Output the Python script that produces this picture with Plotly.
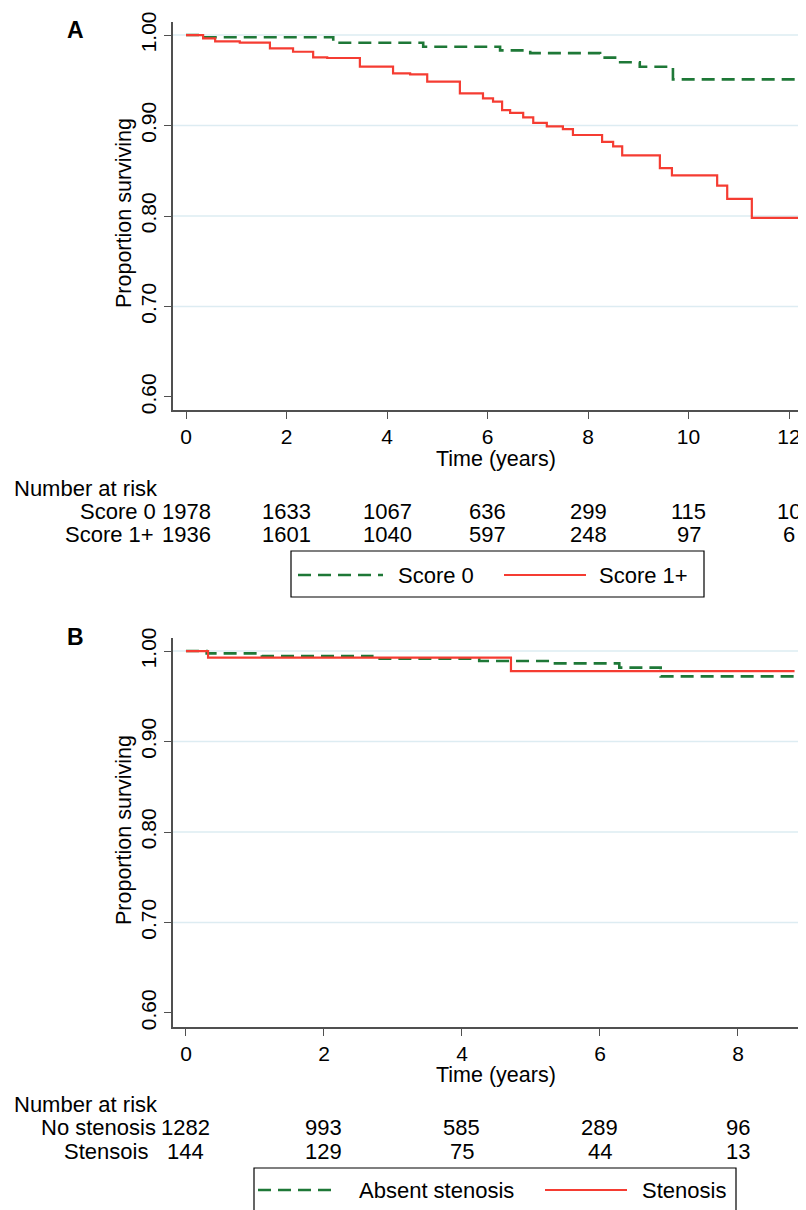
import plotly.graph_objects as go

# The page body keeps its default 8px margin, so positions are given in window
# pixels and shifted by that margin.
OFF = 8
W, H = 806 - OFF, 1210 - OFF

# ---------------- data ----------------
# Panel A: Kaplan-Meier by score
A_score0_t = [0, 0.34, 2.93, 4.72, 6.25, 6.85, 8.24, 8.57, 9.03, 9.69, 12.3]
A_score0_s = [1.0, 0.9975, 0.9915, 0.987, 0.983, 0.980, 0.975, 0.970, 0.965, 0.951, 0.951]

A_score1_t = [0, 0.34, 0.58, 1.07, 1.67, 2.13, 2.53, 2.81, 3.46, 4.12, 4.46, 4.80,
              5.45, 5.91, 6.11, 6.29, 6.45, 6.71, 6.91, 7.18, 7.50, 7.70, 8.28,
              8.50, 8.68, 9.43, 9.67, 10.57, 10.77, 11.26, 12.28]
A_score1_s = [1.0, 0.9964, 0.993, 0.9915, 0.9853, 0.9815, 0.9754, 0.9746, 0.965,
              0.9577, 0.9566, 0.9484, 0.9356, 0.930, 0.9263, 0.917, 0.914, 0.909,
              0.903, 0.899, 0.896, 0.8895, 0.882, 0.877, 0.867, 0.853, 0.845,
              0.8335, 0.819, 0.798, 0.798]

# Panel B: Kaplan-Meier by stenosis
B_absent_t = [0, 0.30, 1.10, 2.70, 4.25, 5.30, 6.28, 6.88, 8.99]
B_absent_s = [1.0, 0.9974, 0.9945, 0.9916, 0.989, 0.9864, 0.9817, 0.972, 0.972]
B_sten_t = [0, 0.32, 4.71, 8.82]
B_sten_s = [1.0, 0.9927, 0.9777, 0.9777]

# Number at risk tables
A_risk_times = [0, 2, 4, 6, 8, 10, 12]
A_risk_score0 = [1978, 1633, 1067, 636, 299, 115, 10]
A_risk_score1 = [1936, 1601, 1040, 597, 248, 97, 6]
B_risk_times = [0, 2, 4, 6, 8]
B_risk_none = [1282, 993, 585, 289, 96]
B_risk_sten = [144, 129, 75, 44, 13]

A_xticks = [0, 2, 4, 6, 8, 10, 12]
B_xticks = [0, 2, 4, 6, 8]
y_ticks = [0.6, 0.7, 0.8, 0.9, 1.0]
y_ticktext = ["0.60", "0.70", "0.80", "0.90", "1.00"]
grid_vals = [0.7, 0.8, 0.9, 1.0]

# ---------------- style ----------------
GREEN = "rgb(30,120,55)"
RED = "rgb(245,60,50)"
AXIS = "rgb(80,80,80)"
GRID = "rgb(221,236,242)"
FONT = "Liberation Sans, Arial, sans-serif"


def py(p):
    """window pixel row -> paper y"""
    return 1 - (p - OFF) / H


def px(p):
    """window pixel column -> paper x"""
    return (p - OFF) / W


fig = go.Figure()

fig.add_trace(go.Scatter(x=A_score0_t, y=A_score0_s, mode="lines", line_shape="hv",
                         line=dict(color=GREEN, width=2.6, dash="13px,7px"),
                         xaxis="x", yaxis="y", showlegend=False, name="Score 0"))
fig.add_trace(go.Scatter(x=A_score1_t, y=A_score1_s, mode="lines", line_shape="hv",
                         line=dict(color=RED, width=2.2),
                         xaxis="x", yaxis="y", showlegend=False, name="Score 1+"))
fig.add_trace(go.Scatter(x=B_absent_t, y=B_absent_s, mode="lines", line_shape="hv",
                         line=dict(color=GREEN, width=2.6, dash="13px,7px"),
                         xaxis="x2", yaxis="y2", showlegend=False, name="Absent stenosis"))
fig.add_trace(go.Scatter(x=B_sten_t, y=B_sten_s, mode="lines", line_shape="hv",
                         line=dict(color=RED, width=2.2),
                         xaxis="x2", yaxis="y2", showlegend=False, name="Stenosis"))

axis_common = dict(showline=True, linecolor=AXIS, linewidth=1.6, ticks="outside",
                   ticklen=7, tickwidth=1.4, tickcolor=AXIS, showgrid=False,
                   zeroline=False, mirror=False, automargin=False,
                   ticklabeloverflow="allow",
                   tickfont=dict(family=FONT, size=21, color="black"))

X_dom = [px(173), px(806)]
A_dom = [py(410), py(22)]
B_dom = [py(1027), py(638)]

fig.update_layout(
    width=W, height=H,
    margin=dict(l=0, r=0, t=0, b=0, autoexpand=False),
    paper_bgcolor="white", plot_bgcolor="white",
    font=dict(family=FONT, size=21, color="black"),
    xaxis=dict(axis_common, domain=X_dom, range=[-0.259, 12.338], anchor="y",
               tickvals=A_xticks),
    yaxis=dict(axis_common, domain=A_dom, range=[0.5856, 1.0144], anchor="x",
               tickvals=y_ticks, ticktext=y_ticktext, tickangle=-90),
    xaxis2=dict(axis_common, domain=X_dom, range=[-0.188, 8.986], anchor="y2",
                tickvals=B_xticks),
    yaxis2=dict(axis_common, domain=B_dom, range=[0.5845, 1.0144], anchor="x2",
                tickvals=y_ticks, ticktext=y_ticktext, tickangle=-90),
)

shapes = []
for xr, yr in (("x", "y"), ("x2", "y2")):
    for g in grid_vals:
        shapes.append(dict(type="line", xref=f"{xr} domain", yref=yr, x0=0, x1=1,
                           y0=g, y1=g, line=dict(color=GRID, width=1.6), layer="below"))

ann = []


def text(x, y, s, size=22, xanchor="center", xref="paper", bold=False, angle=0):
    ann.append(dict(x=x, y=y, xref=xref, yref="paper", text=f"<b>{s}</b>" if bold else s,
                    showarrow=False, xanchor=xanchor, yanchor="middle", textangle=angle,
                    font=dict(family=FONT, size=size, color="black")))


# panel letters
text(px(75), py(30), "A", size=23, bold=True)
text(px(75), py(637), "B", size=23, bold=True)

# y-axis titles
text(px(124), py(213), "Proportion surviving", size=21.5, angle=-90)
text(px(124), py(830), "Proportion surviving", size=21.5, angle=-90)

# x-axis titles
text(px(496), py(459), "Time (years)", size=21.5)
text(px(496), py(1075), "Time (years)", size=21.5)

# risk table A
text(px(12), py(488), "Number at risk", xanchor="left")
text(px(158), py(511), "Score 0", xanchor="right")
text(px(156), py(534), "Score 1+", xanchor="right")
for t, v in zip(A_risk_times, A_risk_score0):
    text(t, py(511), str(v), xref="x")
for t, v in zip(A_risk_times, A_risk_score1):
    text(t, py(534), str(v), xref="x")

# risk table B
text(px(12), py(1104), "Number at risk", xanchor="left")
text(px(158), py(1127), "No stenosis", xanchor="right")
text(px(150), py(1151), "Stensois", xanchor="right")
for t, v in zip(B_risk_times, B_risk_none):
    text(t, py(1127), str(v), xref="x2")
for t, v in zip(B_risk_times, B_risk_sten):
    text(t, py(1151), str(v), xref="x2")

# legend A (manual)
shapes.append(dict(type="rect", xref="paper", yref="paper", x0=px(291), x1=px(704),
                   y0=py(597), y1=py(551), line=dict(color="black", width=1.2)))
shapes.append(dict(type="line", xref="paper", yref="paper", x0=px(298), x1=px(383),
                   y0=py(575), y1=py(575), line=dict(color=GREEN, width=2.6, dash="13px,7px")))
shapes.append(dict(type="line", xref="paper", yref="paper", x0=px(504), x1=px(586),
                   y0=py(575), y1=py(575), line=dict(color=RED, width=2.2)))
text(px(396), py(575), "Score 0", xanchor="left")
text(px(597), py(575), "Score 1+", xanchor="left")

# legend B (manual, bottom edge runs off the page as in the reference)
shapes.append(dict(type="rect", xref="paper", yref="paper", x0=px(254), x1=px(736),
                   y0=py(1225), y1=py(1168), line=dict(color="black", width=1.2)))
shapes.append(dict(type="line", xref="paper", yref="paper", x0=px(258), x1=px(335),
                   y0=py(1190), y1=py(1190), line=dict(color=GREEN, width=2.6, dash="13px,7px")))
shapes.append(dict(type="line", xref="paper", yref="paper", x0=px(545), x1=px(627),
                   y0=py(1190), y1=py(1190), line=dict(color=RED, width=2.2)))
text(px(357), py(1190), "Absent stenosis", xanchor="left")
text(px(640), py(1190), "Stenosis", xanchor="left")

fig.update_layout(shapes=shapes, annotations=ann)

fig.write_html("out.html")
